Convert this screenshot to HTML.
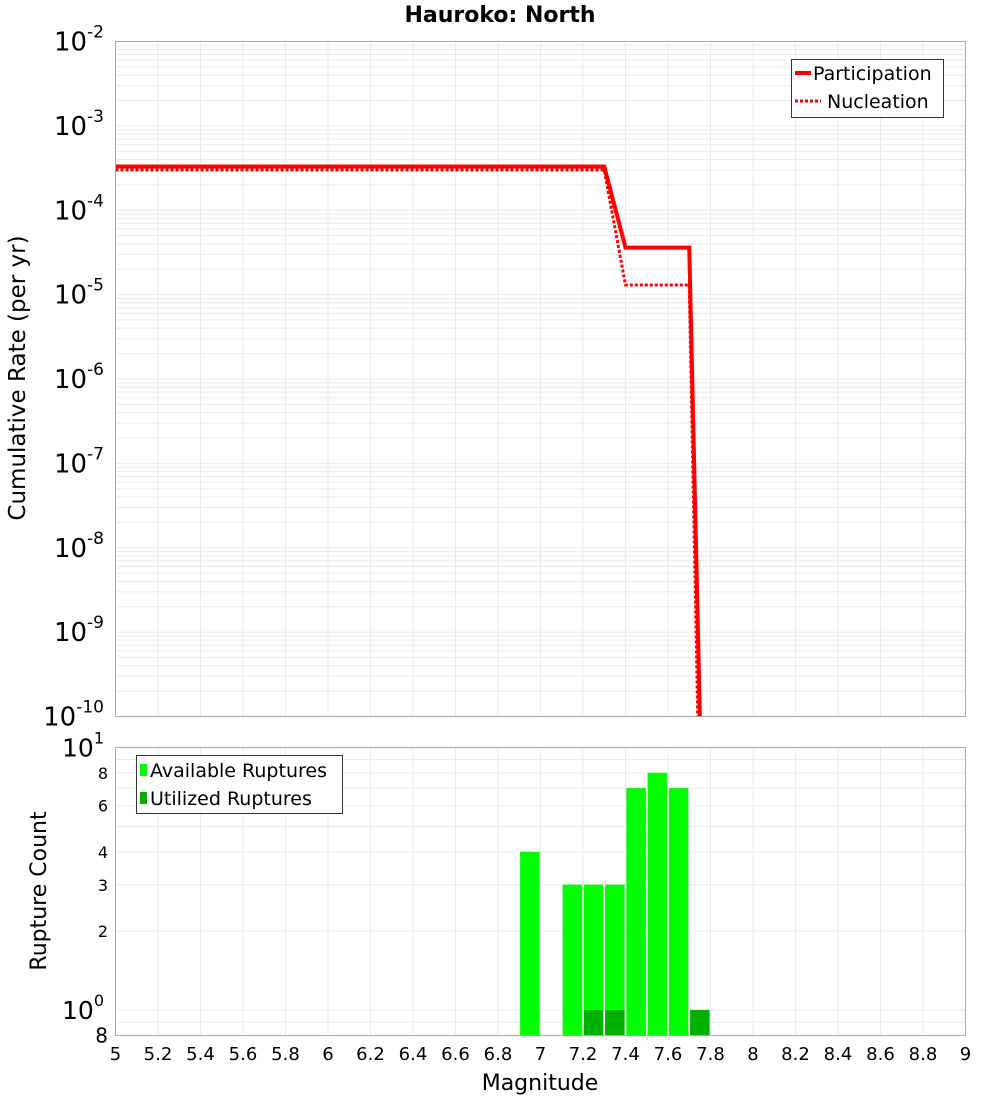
<!DOCTYPE html>
<html><head><meta charset="utf-8"><style>
body{margin:0;background:#fff;font-family:"DejaVu Sans","Liberation Sans",sans-serif}
</style></head><body>
<svg id="c" width="1000" height="1100" xmlns="http://www.w3.org/2000/svg" font-family="DejaVu Sans, Liberation Sans, sans-serif"></svg>
<script>
const magTicks=[5,5.2,5.4,5.6,5.8,6,6.2,6.4,6.6,6.8,7,7.2,7.4,7.6,7.8,8,8.2,8.4,8.6,8.8,9];
const partMag=[5,7.3,7.4,7.7,7.75];
const partRate=[3.3e-4,3.3e-4,3.6e-5,3.6e-5,1e-10];
const nuclMag=[5,7.3,7.4,7.7,7.74];
const nuclRate=[3.0e-4,3.0e-4,1.3e-5,1.3e-5,1e-10];
const binMag=[6.95,7.15,7.25,7.35,7.45,7.55,7.65,7.75];
const availCount=[4,3,3,3,7,8,7,1];
const usedCount=[0,0,1,1,0,0,0,1];
const topExp=[-2,-3,-4,-5,-6,-7,-8,-9,-10];
const botTicks=[10,8,6,4,3,2,1,0.8];
const botLabels=["10|1","8","6","4","3","2","10|0","8"];

const S=document.getElementById('c');const NS='http://www.w3.org/2000/svg';
function el(t,a,p){const e=document.createElementNS(NS,t);for(const k in a)e.setAttribute(k,a[k]);(p||S).appendChild(e);return e;}
const L=115.5,R=965.5,T1=41.5,B1=716.5,T2=747.5,B2=1035.5;
const X=m=>L+(m-5)/4*(R-L);
const Y1=v=>T1+(-2-Math.log10(v))/8*(B1-T1);
const Y2=v=>T2+(1-Math.log10(v))/(1-Math.log10(0.8))*(B2-T2);

let t=el('text',{x:500,y:22,'text-anchor':'middle','font-size':22,'font-weight':'bold'});t.textContent='Hauroko: North';


const g=el('g',{stroke:'#ebebeb','stroke-width':1});

magTicks.forEach(m=>{el('line',{x1:X(m),x2:X(m),y1:T1,y2:B1},g);el('line',{x1:X(m),x2:X(m),y1:T2,y2:B2},g);});
for(let e=-10;e<-2;e++)for(let k=1;k<10;k++){const y=Y1(k*Math.pow(10,e));el('line',{x1:L,x2:R,y1:y,y2:y},g);}
[0.8,0.9,1,2,3,4,5,6,7,8,9,10].forEach(v=>{const y=Y2(v);el('line',{x1:L,x2:R,y1:y,y2:y},g);});

function pl(xs,ys,attrs,name){const p=el('polyline',Object.assign({points:xs.map((m,i)=>X(m)+','+Y1(ys[i])).join(' '),fill:'none',stroke:'#ff0000'},attrs));}
const clip=el('clipPath',{id:'cp'});el('rect',{x:L,y:T1,width:R-L,height:B1-T1},clip);
pl(nuclMag,nuclRate,{'stroke-width':3,'stroke-dasharray':'3,2','clip-path':'url(#cp)'},'nucleation-line');
pl(partMag,partRate,{'stroke-width':4,'clip-path':'url(#cp)'},'participation-line');

binMag.forEach((m,i)=>{
 if(availCount[i]>0){const b=el('rect',{x:X(m-0.05)+1,y:Y2(availCount[i]),width:X(m+0.05)-X(m-0.05)-2,height:B2-Y2(availCount[i]),fill:'#00ff00',stroke:'#44ee44','stroke-width':0.5});
 }
 if(usedCount[i]>0){const b=el('rect',{x:X(m-0.05)+1,y:Y2(usedCount[i]),width:X(m+0.05)-X(m-0.05)-2,height:B2-Y2(usedCount[i]),fill:'#00b000'});
 }
});

[[T1,B1],[T2,B2]].forEach(([a,b],i)=>{const r=el('rect',{x:L,y:a,width:R-L,height:b-a,fill:'none',stroke:'#aaa'});});

topExp.forEach(e=>{const tx=el('text',{x:104,y:Y1(Math.pow(10,e))+9,'text-anchor':'end','font-size':26});
 
 tx.innerHTML='10<tspan font-size="17" dy="-13">'+e+'</tspan>';});
botTicks.forEach((v,i)=>{const lab=botLabels[i];const tx=el('text',{x:lab.includes('|')?104:108,y:Y2(v)+(lab.includes('|')?9:6),'text-anchor':'end','font-size':lab.includes('|')?25:16});
 
 if(lab.includes('|')){const [b,e]=lab.split('|');tx.innerHTML=b+'<tspan font-size="16" dy="-13">'+e+'</tspan>';}else{tx.textContent=lab;if(v===0.8){tx.setAttribute('font-size',20);tx.setAttribute('y',Y2(v)+7);}}});
magTicks.forEach(m=>{const tx=el('text',{x:X(m),y:1060,'text-anchor':'middle','font-size':18});tx.textContent=String(m);
 });
t=el('text',{x:540,y:1090,'text-anchor':'middle','font-size':22});t.textContent='Magnitude';
t=el('text',{x:25,y:378,'text-anchor':'middle','font-size':23,transform:'rotate(-90 25 378)'});t.textContent='Cumulative Rate (per yr)';
t=el('text',{x:46,y:891,'text-anchor':'middle','font-size':22,transform:'rotate(-90 46 891)'});t.textContent='Rupture Count';

let lg=el('g',{});
el('rect',{x:791.5,y:59.5,width:152,height:58,fill:'#fff',stroke:'#333'},lg);
el('line',{x1:795,x2:811,y1:73,y2:73,stroke:'#f00','stroke-width':4},lg);
el('line',{x1:795,x2:821,y1:101,y2:101,stroke:'#f00','stroke-width':3,'stroke-dasharray':'3,2'},lg);
t=el('text',{x:813,y:80,'font-size':19},lg);t.textContent='Participation';
t=el('text',{x:827,y:108,'font-size':19},lg);t.textContent='Nucleation';
lg=el('g',{});
el('rect',{x:136.5,y:755.5,width:206,height:58,fill:'#fff',stroke:'#333'},lg);
el('rect',{x:140,y:764,width:7,height:12,fill:'#00ff00'},lg);
el('rect',{x:140,y:792,width:7,height:12,fill:'#00b000'},lg);
t=el('text',{x:150,y:777,'font-size':19},lg);t.textContent='Available Ruptures';
t=el('text',{x:150,y:805,'font-size':19},lg);t.textContent='Utilized Ruptures';
</script>
</body></html>
